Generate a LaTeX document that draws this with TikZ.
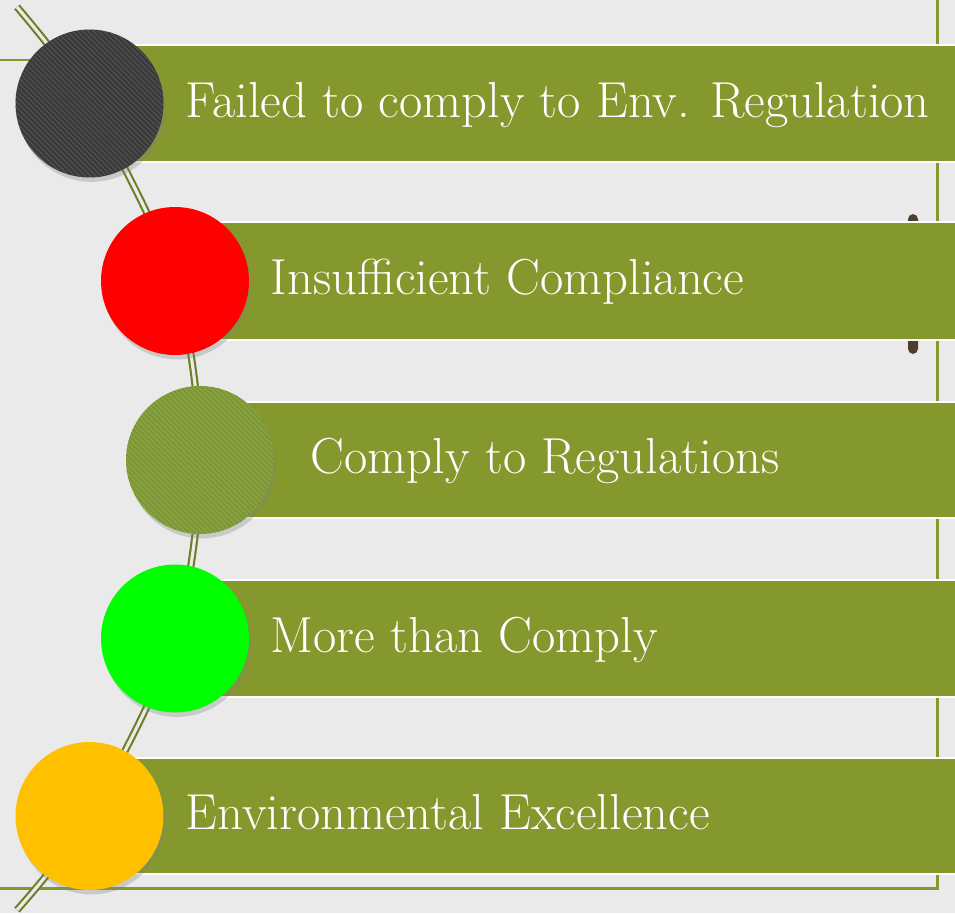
\documentclass[tikz,border=0pt]{standalone}
\usetikzlibrary{positioning,fit,shadows,patterns}
\definecolor{paper}{RGB}{234,234,234}
\definecolor{olivebar}{RGB}{133,152,45}
\definecolor{olivedark}{RGB}{108,126,38}
\definecolor{coal}{RGB}{58,58,58}
\definecolor{moss}{RGB}{134,160,62}
\definecolor{lime}{RGB}{0,255,0}
\definecolor{amber}{RGB}{255,192,0}
\definecolor{peg}{RGB}{78,62,44}
\tikzset{
  bar/.style={fill=olivebar, draw=white, line width=1.4pt, inner sep=0pt},
  dot/.style={circle, minimum size=2.96cm, inner sep=0pt,
    drop shadow={shadow xshift=1.2pt, shadow yshift=-2.5pt, opacity=0.3}},
  stripes/.style={postaction={pattern=north west lines, pattern color=#1}},
  caption/.style={text=white, inner sep=0pt, text height=22.4pt,
    text depth=6.8pt, font=\fontsize{28.8}{34}\selectfont},
  frame/.style={draw=olivebar, line width=1.7pt},
  rail/.style={draw=olivedark, line width=1.2pt, double=paper,
    double distance=1.8pt}
}
\begin{document}
\begin{tikzpicture}[x=0.02cm,y=-0.02cm]
  \useasboundingbox (0,0) rectangle (955,913);
  \fill[paper] (0,0) rectangle (955,913);
  \clip (0,0) rectangle (955,913);

  \coordinate (p1) at (89.5,103.5); \coordinate (p2) at (175,281);
  \coordinate (p3) at (200,460); \coordinate (p4) at (175,638.5);
  \coordinate (p5) at (89.5,816);
  \coordinate (railtop) at (17,7); \coordinate (railbot) at (17,910);

  % frame and rail behind the bars
  \draw[frame] (0,60) -- (p1 |- 0,60);
  \draw[frame] (937,0) -- (937,888) -- (0,888);
  \draw[rail] plot[smooth] coordinates {(railtop) (p1) (p2) (p3) (p4) (p5)
    (railbot)};
  \fill[peg, rounded corners=3pt] (908,214) rectangle (918,354);

  \node[bar, fit={(p1 |- 0,45) (980,162)}] (bar1) {};
  \node[bar, fit={(p2 |- 0,222) (980,340)}] (bar2) {};
  \node[bar, fit={(p3 |- 0,402) (980,518)}] (bar3) {};
  \node[bar, fit={(p4 |- 0,580) (980,697)}] (bar4) {};
  \node[bar, fit={(p5 |- 0,758) (980,874)}] (bar5) {};

  \node[dot, fill=coal, stripes=black!65] (c1) at (p1) {};
  \node[dot, fill=red] (c2) at (p2) {};
  \node[dot, fill=moss, stripes=moss!88!black] (c3) at (p3) {};
  \node[dot, fill=lime] (c4) at (p4) {};
  \node[dot, fill=amber] (c5) at (p5) {};

  \node[caption, right=0.43cm of c1] (t1) {Failed to comply to Env. Regulation};
  \node[caption, right=0.42cm of c2] (t2) {Insufficient Compliance};
  \node[caption, right=0.72cm of c3] (t3) {Comply to Regulations};
  \node[caption, right=0.42cm of c4] (t4) {More than Comply};
  \node[caption, right=0.43cm of c5] (t5) {Environmental Excellence};
\end{tikzpicture}
\end{document}
